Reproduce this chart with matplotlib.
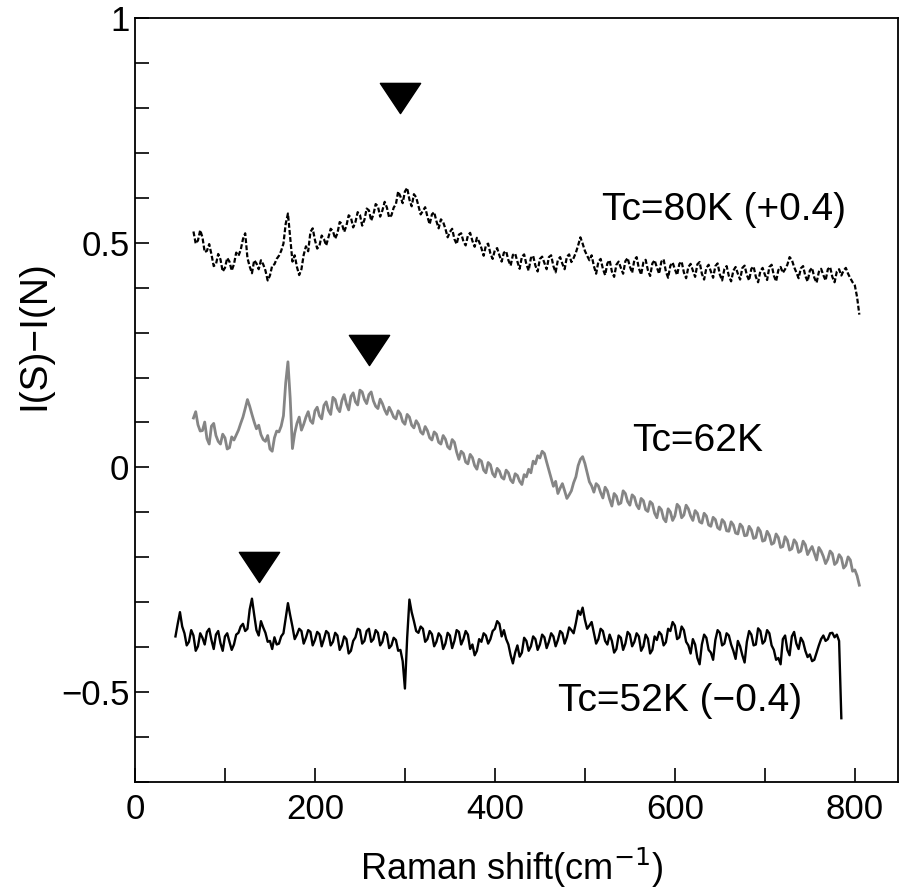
import numpy as np
import matplotlib

matplotlib.use("Agg")
import matplotlib.pyplot as plt
from matplotlib.path import Path
from matplotlib.ticker import MultipleLocator, FuncFormatter

plt.rcParams["font.family"] = ["Liberation Sans", "DejaVu Sans"]

# Raman shift grid start (cm^-1) and step for each spectrum
X0_80K, X0_62K, X0_52K = 65, 65, 45
STEP = 2.5

# raw I(S)-I(N) values (before vertical offset)
y_80k = [
    0.125, 0.098, 0.105, 0.128, 0.112, 0.079, 0.082, 0.097, 0.074, 0.048,
    0.052, 0.075, 0.063, 0.036, 0.044, 0.066, 0.058, 0.038, 0.052, 0.078,
    0.071, 0.084, 0.108, 0.121, 0.066, 0.047, 0.032, 0.061, 0.054, 0.041,
    0.061, 0.052, 0.038, 0.016, 0.027, 0.049, 0.052, 0.064, 0.071, 0.082,
    0.098, 0.142, 0.165, 0.112, 0.058, 0.072, 0.046, 0.028, 0.041, 0.073,
    0.092, 0.081, 0.124, 0.132, 0.106, 0.087, 0.093, 0.116, 0.108, 0.094,
    0.112, 0.131, 0.126, 0.109, 0.121, 0.146, 0.142, 0.124, 0.138, 0.161,
    0.156, 0.134, 0.146, 0.168, 0.162, 0.138, 0.151, 0.176, 0.172, 0.149,
    0.163, 0.186, 0.181, 0.158, 0.172, 0.191, 0.178, 0.156, 0.161, 0.178,
    0.186, 0.214, 0.203, 0.188, 0.214, 0.222, 0.196, 0.181, 0.208, 0.201,
    0.182, 0.163, 0.171, 0.179, 0.158, 0.141, 0.163, 0.168, 0.148, 0.132,
    0.152, 0.146, 0.131, 0.112, 0.124, 0.131, 0.108, 0.097, 0.118, 0.121,
    0.103, 0.094, 0.116, 0.122, 0.104, 0.091, 0.111, 0.102, 0.088, 0.071,
    0.094, 0.098, 0.076, 0.064, 0.084, 0.088, 0.072, 0.058, 0.078, 0.081,
    0.061, 0.049, 0.073, 0.076, 0.058, 0.042, 0.069, 0.074, 0.052, 0.038,
    0.066, 0.071, 0.049, 0.036, 0.064, 0.069, 0.055, 0.041, 0.068, 0.072,
    0.048, 0.034, 0.062, 0.068, 0.053, 0.041, 0.069, 0.074, 0.057, 0.066,
    0.078, 0.094, 0.112, 0.098, 0.082, 0.071, 0.061, 0.072, 0.048, 0.031,
    0.058, 0.064, 0.042, 0.028, 0.054, 0.061, 0.036, 0.024, 0.051, 0.058,
    0.044, 0.031, 0.059, 0.066, 0.047, 0.033, 0.062, 0.068, 0.043, 0.029,
    0.056, 0.062, 0.039, 0.026, 0.054, 0.061, 0.045, 0.031, 0.058, 0.063,
    0.036, 0.022, 0.049, 0.056, 0.041, 0.028, 0.053, 0.058, 0.034, 0.021,
    0.046, 0.053, 0.038, 0.024, 0.052, 0.057, 0.031, 0.018, 0.044, 0.051,
    0.036, 0.022, 0.048, 0.054, 0.029, 0.016, 0.041, 0.048, 0.026, 0.014,
    0.038, 0.046, 0.031, 0.018, 0.044, 0.049, 0.028, 0.016, 0.042, 0.047,
    0.024, 0.012, 0.037, 0.044, 0.029, 0.017, 0.046, 0.051, 0.027, 0.014,
    0.039, 0.046, 0.033, 0.041, 0.051, 0.068, 0.062, 0.046, 0.034, 0.021,
    0.043, 0.048, 0.026, 0.014, 0.038, 0.044, 0.022, 0.011, 0.035, 0.042,
    0.028, 0.016, 0.041, 0.046, 0.024, 0.012, 0.036, 0.041, 0.027, 0.038,
    0.044, 0.031, 0.021, 0.012, 0.005, -0.021, -0.060,
]
y_62k = [
    0.110, 0.124, 0.095, 0.081, 0.082, 0.101, 0.064, 0.052, 0.092, 0.098,
    0.071, 0.058, 0.052, 0.074, 0.066, 0.041, 0.044, 0.068, 0.061, 0.072,
    0.083, 0.098, 0.112, 0.131, 0.151, 0.136, 0.118, 0.101, 0.086, 0.094,
    0.073, 0.062, 0.058, 0.071, 0.041, 0.036, 0.066, 0.081, 0.079, 0.092,
    0.115, 0.188, 0.235, 0.154, 0.042, 0.076, 0.098, 0.112, 0.083, 0.096,
    0.112, 0.124, 0.104, 0.098, 0.126, 0.134, 0.115, 0.108, 0.138, 0.146,
    0.127, 0.118, 0.156, 0.151, 0.132, 0.124, 0.149, 0.162, 0.141, 0.128,
    0.158, 0.166, 0.146, 0.139, 0.172, 0.168, 0.151, 0.142, 0.162, 0.168,
    0.148, 0.136, 0.131, 0.152, 0.142, 0.128, 0.118, 0.134, 0.124, 0.112,
    0.108, 0.126, 0.119, 0.102, 0.096, 0.118, 0.112, 0.094, 0.088, 0.104,
    0.096, 0.079, 0.074, 0.091, 0.082, 0.066, 0.061, 0.079, 0.074, 0.056,
    0.052, 0.071, 0.063, 0.046, 0.041, 0.062, 0.056, 0.034, 0.018, 0.036,
    0.031, 0.012, 0.008, 0.029, 0.022, 0.004, -0.004, 0.018, 0.014, -0.006,
    -0.012, 0.011, 0.006, -0.014, -0.021, -0.002, -0.008, -0.022, -0.026, -0.006,
    -0.012, -0.028, -0.034, -0.014, -0.018, -0.031, -0.038, -0.016, -0.021, -0.004,
    -0.012, 0.014, 0.008, 0.026, 0.021, 0.036, 0.031, 0.012, -0.006, -0.024,
    -0.042, -0.031, -0.058, -0.046, -0.036, -0.052, -0.069, -0.061, -0.052, -0.034,
    -0.021, 0.004, 0.018, 0.024, 0.009, -0.012, -0.032, -0.041, -0.055, -0.036,
    -0.041, -0.056, -0.068, -0.044, -0.052, -0.071, -0.086, -0.058, -0.064, -0.082,
    -0.079, -0.052, -0.058, -0.076, -0.084, -0.061, -0.066, -0.084, -0.092, -0.069,
    -0.074, -0.094, -0.098, -0.076, -0.081, -0.102, -0.112, -0.088, -0.094, -0.114,
    -0.121, -0.092, -0.099, -0.118, -0.108, -0.082, -0.088, -0.112, -0.106, -0.084,
    -0.092, -0.108, -0.118, -0.096, -0.102, -0.121, -0.124, -0.102, -0.108, -0.128,
    -0.131, -0.111, -0.116, -0.134, -0.138, -0.116, -0.122, -0.141, -0.142, -0.121,
    -0.128, -0.146, -0.148, -0.126, -0.132, -0.152, -0.151, -0.131, -0.139, -0.158,
    -0.156, -0.134, -0.142, -0.164, -0.162, -0.142, -0.151, -0.171, -0.168, -0.148,
    -0.156, -0.178, -0.176, -0.154, -0.162, -0.184, -0.181, -0.161, -0.168, -0.189,
    -0.186, -0.164, -0.172, -0.194, -0.184, -0.176, -0.191, -0.206, -0.178, -0.186,
    -0.198, -0.214, -0.204, -0.186, -0.192, -0.216, -0.211, -0.194, -0.201, -0.224,
    -0.218, -0.199, -0.206, -0.231, -0.228, -0.241, -0.262,
]
y_52k = [
    0.024, 0.052, 0.078, 0.046, 0.031, 0.004, 0.012, 0.038, 0.026, -0.008,
    0.002, 0.031, 0.021, 0.006, 0.034, 0.041, 0.016, -0.004, 0.028, 0.036,
    0.009, -0.008, 0.024, 0.031, 0.012, -0.006, 0.006, 0.028, 0.032, 0.046,
    0.052, 0.036, 0.041, 0.084, 0.108, 0.072, 0.038, 0.026, 0.058, 0.044,
    0.032, 0.012, 0.014, -0.004, 0.022, 0.006, 0.008, 0.024, 0.031, 0.064,
    0.098, 0.071, 0.046, 0.018, 0.028, 0.041, 0.036, 0.008, 0.021, 0.038,
    0.034, 0.004, 0.016, 0.034, 0.029, 0.002, 0.018, 0.036, 0.031, 0.004,
    0.012, 0.032, 0.026, -0.006, 0.004, 0.024, 0.018, -0.014, -0.008, 0.014,
    0.022, 0.041, 0.038, 0.008, 0.014, 0.036, 0.041, 0.012, 0.018, 0.038,
    0.032, 0.004, 0.012, 0.034, 0.028, -0.002, 0.004, 0.021, 0.016, -0.008,
    -0.006, -0.031, -0.092, 0.021, 0.106, 0.078, 0.058, 0.036, 0.032, 0.046,
    0.041, 0.012, 0.018, 0.036, 0.029, 0.002, 0.012, 0.031, 0.024, -0.004,
    0.008, 0.032, 0.026, -0.002, 0.014, 0.038, 0.034, 0.006, 0.018, 0.036,
    0.028, -0.004, 0.006, -0.018, -0.008, 0.018, 0.012, 0.031, 0.026, 0.008,
    0.018, 0.036, 0.041, 0.058, 0.052, 0.024, 0.038, 0.018, 0.006, -0.018,
    -0.036, -0.012, 0.004, -0.021, -0.012, 0.021, 0.014, -0.008, 0.002, 0.024,
    0.018, -0.006, 0.006, 0.028, 0.022, -0.002, 0.012, 0.031, 0.024, 0.002,
    0.016, 0.036, 0.031, 0.008, 0.022, 0.044, 0.038, 0.031, 0.054, 0.081,
    0.072, 0.088, 0.061, 0.041, 0.048, 0.056, 0.032, 0.008, 0.018, 0.041,
    0.036, 0.014, 0.006, 0.028, 0.014, -0.012, -0.004, 0.026, 0.021, -0.006,
    0.008, 0.034, 0.028, 0.002, 0.012, 0.031, 0.024, -0.008, 0.002, 0.028,
    0.019, -0.014, -0.006, 0.024, 0.016, 0.034, 0.028, 0.004, 0.011, 0.041,
    0.036, 0.056, 0.048, 0.018, 0.022, 0.046, 0.038, 0.012, 0.004, -0.014,
    0.018, 0.006, -0.024, -0.038, 0.006, 0.028, 0.021, -0.006, -0.012, -0.028,
    0.016, 0.038, 0.032, 0.004, 0.008, 0.031, 0.026, 0.006, -0.008, -0.026,
    0.014, 0.002, -0.018, -0.034, 0.012, 0.036, 0.028, 0.004, 0.006, 0.042,
    0.036, 0.008, 0.014, 0.038, 0.031, 0.004, -0.006, -0.028, -0.024, -0.038,
    0.018, 0.026, -0.006, -0.018, 0.024, 0.034, 0.008, -0.004, 0.021, 0.012,
    -0.008, -0.022, -0.016, -0.031, -0.028, -0.012, 0.004, 0.018, 0.026, 0.014,
    0.018, 0.031, 0.032, 0.022, 0.028, 0.014, -0.158,
]
offsets = [0.4, 0.0, -0.4]
labels = ["Tc=80K (+0.4)", "Tc=62K", "Tc=52K (\u22120.4)"]

# gap positions marked with triangles (already offset)
peak_x = [294, 260, 138]
peak_y = [0.822, 0.262, -0.221]

fig = plt.figure(figsize=(9.01, 8.96), dpi=100)
ax = fig.add_axes([0.1498, 0.1272, 0.8469, 0.8527])

x80 = X0_80K + STEP * np.arange(len(y_80k))
x62 = X0_62K + STEP * np.arange(len(y_62k))
x52 = X0_52K + STEP * np.arange(len(y_52k))

ax.plot(x80, np.array(y_80k) + offsets[0], color="black", lw=1.6,
        ls=(0, (2.2, 1.0)))
ax.plot(x62, np.array(y_62k) + offsets[1], color="#858585", lw=2.0)
ax.plot(x52, np.array(y_52k) + offsets[2], color="black", lw=1.7)

# squat downward triangle marker
tri = Path([(-1, 0.75), (1, 0.75), (0, -0.75), (-1, 0.75)],
           [Path.MOVETO, Path.LINETO, Path.LINETO, Path.CLOSEPOLY])
ax.plot(peak_x, peak_y, ls="none", marker=tri, ms=29, color="black")

fs = 28
ax.text(519, 0.573, labels[0], fontsize=fs, va="center", ha="left")
ax.text(553, 0.059, labels[1], fontsize=fs, va="center", ha="left")
ax.text(470, -0.52, labels[2], fontsize=fs, va="center", ha="left")

ax.set_xlim(0, 848)
ax.set_ylim(-0.7, 1.0)
ax.xaxis.set_major_locator(MultipleLocator(200))
ax.xaxis.set_minor_locator(MultipleLocator(100))
ax.yaxis.set_major_locator(MultipleLocator(0.5))
ax.yaxis.set_minor_locator(MultipleLocator(0.1))
ax.yaxis.set_major_formatter(FuncFormatter(lambda v, p: f"{v:g}".replace("-", "\u2212")))
ax.tick_params(which="both", direction="in", length=10, width=1.2,
               top=False, right=False, labelsize=25)
ax.tick_params(axis="x", pad=8)
ax.tick_params(axis="y", pad=4)
for s in ax.spines.values():
    s.set_linewidth(1.3)

ax.set_xlabel("Raman shift(cm$^{-1}$)", fontsize=26)
ax.set_ylabel("I(S)\u2212I(N)", fontsize=28)
ax.xaxis.set_label_coords(0.494, -0.083)
ax.yaxis.set_label_coords(-0.108, 0.585)

fig.savefig("out.png", dpi=100)
